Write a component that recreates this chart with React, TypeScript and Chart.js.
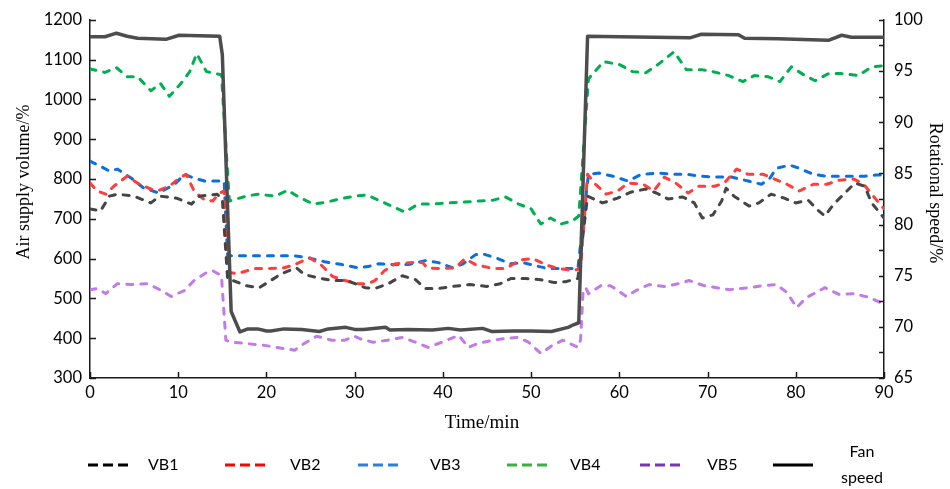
import React, { useEffect, useRef } from "react";
import { Chart, registerables } from "chart.js";

Chart.register(...registerables);

// ---- data: [time (min), value] ----
const vb1: [number, number][] = [
  [0, 725], [1.2, 720], [2.2, 757], [3.1, 762], [5, 757], [6.9, 740], [7.9, 757], [9.8, 752],
  [11.5, 737], [12.4, 757], [14.4, 762], [15, 750], [15.6, 548], [16.2, 545], [17.7, 532],
  [19.2, 527], [21.7, 562], [23.4, 577], [24.3, 560], [25.8, 552], [27.4, 545], [29.1, 545],
  [31.2, 527], [32.3, 525], [33.8, 537], [35.4, 557], [36.9, 547], [38, 525], [39.5, 525],
  [41.1, 530], [43.1, 535], [45, 530], [46.5, 537], [47.7, 550], [49.4, 550], [51.1, 547],
  [52.6, 540], [53.9, 542], [55.3, 550], [56.4, 757], [58.1, 740], [59.8, 752], [61.3, 767],
  [63, 775], [64.2, 765], [65.5, 750], [67.2, 755], [68.5, 740], [69.4, 702], [70.6, 710],
  [71.6, 745], [72.1, 777], [73, 757], [74.7, 732], [75.8, 740], [77.2, 762], [78.7, 752],
  [80, 740], [81.4, 747], [82.6, 720], [83.3, 707], [84.3, 737], [85.8, 770], [86.7, 790],
  [87.8, 782], [88.6, 740], [90, 702],
];

const vb2: [number, number][] = [
  [0, 790], [0.8, 770], [1.8, 762], [2.7, 782], [4.2, 807], [5.6, 787], [6.9, 775], [7.6, 770],
  [9, 782], [10.1, 802], [10.9, 812], [11.8, 770], [13, 747], [13.9, 745], [14.7, 765],
  [15.2, 770], [15.5, 627], [15.8, 565], [16.7, 562], [18.6, 575], [20.1, 575], [22, 577],
  [23.2, 585], [24.9, 602], [26.3, 582], [27.5, 555], [28.9, 545], [30.4, 537], [31.5, 537],
  [32.3, 545], [33.4, 570], [34.6, 587], [36.5, 590], [37.7, 590], [38.2, 577], [39.5, 575],
  [41.4, 577], [42.5, 600], [43.7, 585], [45.7, 575], [47.1, 575], [48.8, 597], [50.2, 600],
  [52, 582], [53.1, 575], [54.8, 570], [55.6, 575], [56.4, 812], [57.3, 787], [58.5, 762],
  [59.8, 770], [61, 790], [62.7, 787], [63.9, 770], [65.1, 805], [66.4, 790], [67.8, 765],
  [69, 782], [70.8, 782], [71.9, 790], [73.3, 825], [74.6, 812], [76.3, 812], [77.6, 800],
  [79, 787], [80.4, 770], [82, 787], [83.5, 787], [84.9, 797], [86.6, 800], [87.7, 787],
  [88.6, 762], [90, 725],
];

const vb3: [number, number][] = [
  [0, 845], [1.2, 832], [2.2, 820], [3.1, 825], [4.7, 802], [6.1, 777], [7.8, 765], [9.6, 787],
  [10.7, 812], [11.8, 802], [13, 795], [15.2, 795], [15.6, 607], [17.2, 607], [23.2, 607],
  [24.7, 602], [26.6, 592], [28.6, 585], [30.4, 577], [31.5, 580], [32.7, 587], [34.6, 585],
  [36.1, 585], [38, 595], [39.5, 590], [41.1, 577], [42.3, 587], [43.7, 610], [44.5, 612],
  [46, 602], [47.7, 587], [49.1, 590], [50.5, 582], [52, 575], [53.6, 575], [55.3, 575],
  [56.5, 812], [57.7, 815], [59.3, 807], [61, 795], [62.5, 812], [64.4, 815], [66.1, 812],
  [67.6, 812], [69.3, 807], [71, 805], [72.7, 805], [74.6, 795], [76.1, 787], [77, 800],
  [77.8, 827], [79.3, 835], [80.4, 827], [82, 812], [83.5, 807], [85, 807], [86.6, 807],
  [87.8, 807], [89, 810], [90, 810],
];

const vb4: [number, number][] = [
  [0, 1077], [1.7, 1068], [3, 1080], [4.2, 1057], [5.4, 1057], [6.9, 1022], [8, 1040],
  [9, 1008], [10.3, 1040], [11.3, 1070], [12.1, 1115], [13.2, 1070], [14.9, 1062], [15.8, 745],
  [17.7, 757], [19, 762], [21, 757], [22.4, 772], [23.5, 757], [25.3, 737], [26.8, 742],
  [28.3, 750], [30, 757], [31.4, 760], [32.9, 745], [34.2, 732], [35.7, 717], [37.2, 737],
  [38.8, 737], [40.6, 740], [42.3, 742], [44.2, 745], [45.7, 747], [47.1, 755], [48.6, 737],
  [50, 725], [51.1, 687], [52.2, 702], [53.4, 687], [54.7, 695], [55.4, 707], [56.5, 1052],
  [58.2, 1095], [60, 1088], [61.5, 1070], [63, 1067], [64.5, 1090], [66.2, 1120], [67.6, 1075],
  [69.3, 1075], [70.6, 1070], [72.4, 1060], [74, 1045], [75.3, 1060], [76.9, 1057], [78.2, 1045],
  [79.5, 1082], [80.9, 1062], [82.2, 1047], [83.7, 1065], [85.2, 1065], [87.1, 1060],
  [88.6, 1082], [90, 1085],
];

const vb5: [number, number][] = [
  [0, 522], [0.8, 525], [1.8, 512], [3.1, 537], [4.7, 535], [6.5, 537], [8.1, 520], [9.2, 505],
  [10.7, 520], [11.8, 545], [13.2, 565], [13.9, 570], [14.9, 557], [15.4, 395], [16, 390],
  [17.5, 387], [19.8, 382], [21.7, 375], [23.2, 370], [24.3, 387], [25.7, 405], [27.4, 395],
  [28.9, 395], [30, 405], [30.8, 397], [32.1, 390], [33.7, 395], [35.4, 402], [36.9, 390],
  [38.3, 377], [39.9, 390], [41.8, 407], [42.9, 377], [44, 387], [45.7, 395], [47.3, 400],
  [48.6, 402], [49.7, 390], [51.1, 362], [52.4, 382], [53.6, 395], [55.3, 377], [55.6, 395],
  [55.9, 520], [56.2, 527], [56.5, 512], [57.9, 532], [59, 532], [60.8, 505], [61.9, 520],
  [63.4, 535], [65.1, 530], [66.7, 537], [67.9, 545], [69.6, 532], [71, 527], [72.5, 522],
  [74.7, 527], [76.3, 532], [77.8, 535], [79, 515], [80.1, 477], [81.2, 502], [83.3, 527],
  [84.9, 510], [86.6, 512], [88.4, 502], [90, 485],
];

const fanSpeed: [number, number][] = [
  [0, 98.35], [1.7, 98.35], [3, 98.7], [4.2, 98.4], [5.4, 98.2], [8.6, 98.1], [10.1, 98.5],
  [14.7, 98.4], [15, 96.6], [16, 71.5], [17, 69.5], [17.9, 69.8], [19, 69.8], [20, 69.6],
  [20.5, 69.6], [22, 69.8], [24, 69.75], [26, 69.55], [27, 69.8], [29, 69.95], [30, 69.75],
  [31, 69.75], [33.5, 69.95], [34, 69.7], [36, 69.75], [38.8, 69.7], [40.6, 69.85], [42, 69.7],
  [44.5, 69.85], [45.5, 69.55], [48, 69.6], [50, 69.6], [52.3, 69.55], [54.2, 69.95], [54.8, 70.2],
  [55.4, 70.4], [56.4, 98.4], [60, 98.35], [64, 98.3], [68, 98.25], [69.3, 98.6], [73.5, 98.55],
  [74.2, 98.2], [78, 98.15], [83.7, 98.0], [85.2, 98.5], [86.3, 98.3], [90, 98.3],
];

const seriesNames = ["VB1", "VB2", "VB3", "VB4", "VB5", "Fan speed"];
const seriesColors = ["#454545", "#ff3d3d", "#0b6fe0", "#00b050", "#c27be6", "#4d4d4d"];
const legendColors = ["#000000", "#ff0000", "#2f7fd8", "#3cb03c", "#7a35b5", "#000000"];

const xAxisTicks = { min: 0, max: 90, step: 10 };
const leftAxisTicks = { min: 300, max: 1200, step: 100 };
const rightAxisTicks = { min: 65, max: 100, step: 2.5, labelStep: 5 };

const xTitle = "Time/min";
const leftTitle = "Air supply volume/%";
const rightTitle = "Rotational speed/%";

const TICK_FONT = "Lato";
const TITLE_FONT = "'Liberation Serif', 'Times New Roman', serif";

const inwardTicks = {
  id: "inwardTicks",
  afterDraw(chart: any) {
    const { ctx, chartArea, scales } = chart;
    ctx.save();
    ctx.strokeStyle = "#1a1a1a";
    ctx.lineWidth = 1.5;
    ctx.beginPath();
    for (const t of scales.x.ticks) {
      const px = Math.round(scales.x.getPixelForValue(t.value)) + 0.5;
      ctx.moveTo(px, chartArea.bottom);
      ctx.lineTo(px, chartArea.bottom - 6);
    }
    for (const t of scales.y.ticks) {
      const py = Math.round(scales.y.getPixelForValue(t.value)) + 0.5;
      ctx.moveTo(chartArea.left, py);
      ctx.lineTo(chartArea.left + 6, py);
    }
    for (const t of scales.y1.ticks) {
      const py = Math.round(scales.y1.getPixelForValue(t.value)) + 0.5;
      ctx.moveTo(chartArea.right, py);
      ctx.lineTo(chartArea.right - 5, py);
    }
    ctx.stroke();
    ctx.restore();
  },
};

const axisTitles = {
  id: "axisTitles",
  afterDraw(chart: any) {
    const { ctx, chartArea } = chart;
    ctx.save();
    ctx.fillStyle = "#000";
    ctx.textAlign = "center";
    ctx.textBaseline = "middle";
    ctx.font = `19px ${TITLE_FONT}`;
    ctx.fillText(xTitle, (chartArea.left + chartArea.right) / 2 - 5, chartArea.bottom + 45);
    ctx.font = `18px ${TITLE_FONT}`;
    ctx.save();
    ctx.translate(24, chartArea.top + 162);
    ctx.rotate(-Math.PI / 2);
    ctx.fillText(leftTitle, 0, 0);
    ctx.restore();
    ctx.save();
    ctx.translate(935, chartArea.top + 173);
    ctx.rotate(Math.PI / 2);
    ctx.fillText(rightTitle, 0, 0);
    ctx.restore();
    ctx.restore();
  },
};

const customLegend = {
  id: "customLegend",
  afterDraw(chart: any) {
    const { ctx } = chart;
    const lineX = [88, 225, 358, 507, 640, 773];
    const textX = [148, 290, 430, 570, 707, 862];
    const y = 465;
    ctx.save();
    ctx.font = `16px ${TICK_FONT}`;
    ctx.fillStyle = "#000";
    ctx.textBaseline = "middle";
    seriesNames.forEach((name, i) => {
      const isFan = i === seriesNames.length - 1;
      ctx.beginPath();
      ctx.strokeStyle = legendColors[i];
      ctx.lineWidth = 3;
      ctx.setLineDash(isFan ? [] : [10, 5]);
      ctx.moveTo(lineX[i], y);
      ctx.lineTo(lineX[i] + 40, y);
      ctx.stroke();
      if (isFan) {
        const parts = name.split(" ");
        ctx.textAlign = "center";
        ctx.fillText(parts[0], textX[i], y - 13);
        ctx.fillText(parts[1], textX[i], y + 13);
      } else {
        ctx.textAlign = "left";
        ctx.fillText(name, textX[i], y);
      }
    });
    ctx.restore();
  },
};

export default function App() {
  const ref = useRef<HTMLCanvasElement | null>(null);

  useEffect(() => {
    if (!ref.current) return;
    const all = [vb1, vb2, vb3, vb4, vb5, fanSpeed];
    const datasets = all.map((s, i) => {
      const isFan = i === all.length - 1;
      return {
        label: seriesNames[i],
        data: s.map(([x, y]) => ({ x, y })),
        borderColor: seriesColors[i],
        backgroundColor: seriesColors[i],
        borderWidth: isFan ? 3.5 : 3,
        borderDash: isFan ? [] : [6, 8],
        borderCapStyle: isFan ? "butt" : "round",
        borderJoinStyle: "round",
        pointRadius: 0,
        tension: 0,
        fill: false,
        yAxisID: isFan ? "y1" : "y",
        order: isFan ? 0 : 1,
      };
    });

    const plain = (v: any) => String(v);

    const chart = new Chart(ref.current, {
      type: "line",
      data: { datasets } as any,
      options: {
        animation: false,
        responsive: false,
        maintainAspectRatio: false,
        layout: { padding: { top: 18, left: 0, right: 0, bottom: 0 } },
        plugins: { legend: { display: false }, tooltip: { enabled: false } },
        scales: {
          x: {
            type: "linear",
            min: xAxisTicks.min,
            max: xAxisTicks.max,
            grid: { display: false, drawTicks: false, tickLength: 0 },
            border: { display: true, color: "#1a1a1a", width: 1.5 },
            ticks: {
              stepSize: xAxisTicks.step,
              padding: 5,
              color: "#000",
              font: { family: TICK_FONT, size: 16.5 },
              maxRotation: 0,
              callback: plain,
            },
            afterFit: (s: any) => { s.height = 111; },
          },
          y: {
            type: "linear",
            position: "left",
            min: leftAxisTicks.min,
            max: leftAxisTicks.max,
            grid: { display: false, drawTicks: false, tickLength: 0 },
            border: { display: true, color: "#1a1a1a", width: 1.5 },
            ticks: {
              stepSize: leftAxisTicks.step,
              padding: 8,
              color: "#000",
              font: { family: TICK_FONT, size: 16.5 },
              callback: plain,
            },
            afterFit: (s: any) => { s.width = 90; },
          },
          y1: {
            type: "linear",
            position: "right",
            min: rightAxisTicks.min,
            max: rightAxisTicks.max,
            grid: { display: false, drawTicks: false, tickLength: 0 },
            border: { display: true, color: "#1a1a1a", width: 1.5 },
            ticks: {
              stepSize: rightAxisTicks.step,
              padding: 10,
              color: "#000",
              font: { family: TICK_FONT, size: 16.5 },
              autoSkip: false,
              callback: (v: any) =>
                Math.abs(v / rightAxisTicks.labelStep - Math.round(v / rightAxisTicks.labelStep)) < 1e-6
                  ? String(v)
                  : "",
            },
            afterFit: (s: any) => { s.width = 66; },
          },
        },
      } as any,
      plugins: [inwardTicks, axisTitles, customLegend],
    });
    return () => chart.destroy();
  }, []);

  return (
    <div style={{ position: "fixed", left: 0, top: 0, width: 950, height: 489, background: "#fff" }}>
      <canvas ref={ref} width={950} height={489} style={{ width: 950, height: 489, display: "block" }} />
    </div>
  );
}
